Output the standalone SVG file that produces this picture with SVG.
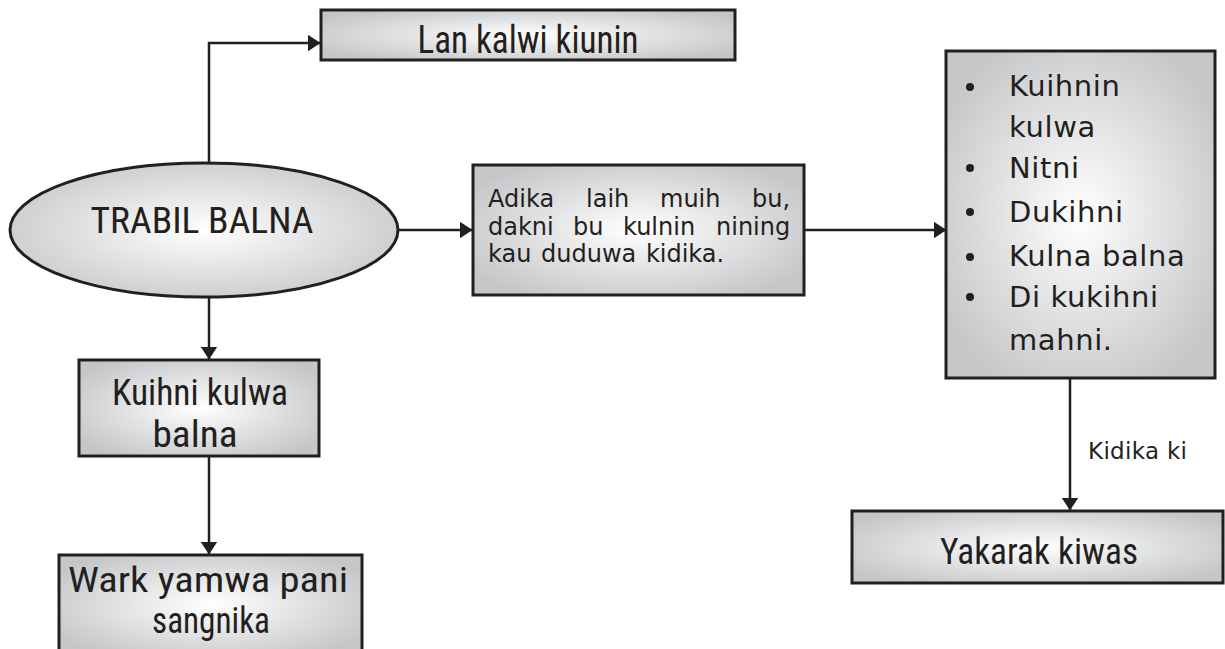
<svg xmlns="http://www.w3.org/2000/svg" width="1225" height="649" viewBox="0 0 1225 649">
<defs>
<radialGradient id="g" cx="50%" cy="50%" r="60%">
<stop offset="0" stop-color="#ffffff"/>
<stop offset="1" stop-color="#c5c6c8"/>
</radialGradient>
<marker id="ah" viewBox="0 0 13 17" refX="12.5" refY="8.5" markerWidth="13" markerHeight="17" markerUnits="userSpaceOnUse" orient="auto">
<path d="M0,0 L13,8.5 L0,17 Z" fill="#231f20"/>
</marker>
<style>
.box{fill:url(#g);stroke:#231f20;stroke-width:3}
.c{fill:none;stroke:#231f20;stroke-width:2.5;marker-end:url(#ah)}
.n{font-family:"Liberation Sans Narrow","Roboto",sans-serif;font-stretch:condensed;fill:#231f20;text-anchor:middle}
.g{font-family:"DejaVu Sans","Noto Sans",sans-serif;fill:#231f20}
</style>
</defs>
<g id="connectors">
<path class="c" d="M209,163 L209,43 L320,43"/>
<path class="c" d="M398,230 L472,230"/>
<path class="c" d="M804,230 L946,230"/>
<path class="c" d="M209,298 L209,359"/>
<path class="c" d="M209,456 L209,554"/>
<path class="c" d="M1070,379 L1070,510"/>
<text class="g" x="1088" y="459" font-size="23" letter-spacing="0.3">Kidika ki</text>
</g>
<g id="n-lan">
<rect class="box" x="321" y="10" width="414" height="50"/>
<text class="n" x="528" y="53" font-size="38" textLength="221" lengthAdjust="spacingAndGlyphs">Lan kalwi kiunin</text>
</g>
<g id="n-trabil">
<ellipse class="box" cx="204" cy="230" rx="194" ry="67"/>
<text class="n" x="202" y="233" font-size="36" textLength="223" lengthAdjust="spacingAndGlyphs">TRABIL BALNA</text>
</g>
<g id="n-adika">
<rect class="box" x="473" y="165" width="331" height="130"/>
<text class="g" font-size="24">
<tspan x="488" y="207">Adika</tspan><tspan x="586" y="207">laih</tspan><tspan x="660" y="207">muih</tspan><tspan x="752" y="207">bu,</tspan>
<tspan x="488" y="235">dakni</tspan><tspan x="573" y="235">bu</tspan><tspan x="623" y="235">kulnin</tspan><tspan x="716" y="235">nining</tspan>
<tspan x="488" y="262" word-spacing="2">kau duduwa kidika.</tspan>
</text>
</g>
<g id="n-list">
<rect class="box" x="946" y="51" width="269" height="327"/>
<g fill="#231f20">
<circle cx="970" cy="87" r="4"/>
<circle cx="970" cy="168" r="4"/>
<circle cx="970" cy="212" r="4"/>
<circle cx="970" cy="257" r="4"/>
<circle cx="970" cy="297" r="4"/>
</g>
<text class="g" font-size="29" letter-spacing="0.6">
<tspan x="1009" y="96">Kuihnin</tspan>
<tspan x="1009" y="137">kulwa</tspan>
<tspan x="1009" y="178">Nitni</tspan>
<tspan x="1009" y="222">Dukihni</tspan>
<tspan x="1009" y="266">Kulna balna</tspan>
<tspan x="1009" y="307">Di kukihni</tspan>
<tspan x="1009" y="350">mahni.</tspan>
</text>
</g>
<g id="n-kuihni">
<rect class="box" x="79" y="360" width="240" height="96"/>
<text class="n" x="200" y="405" font-size="37" textLength="176" lengthAdjust="spacingAndGlyphs">Kuihni kulwa</text>
<text class="n" x="195" y="447" font-size="37" textLength="85" lengthAdjust="spacingAndGlyphs">balna</text>
</g>
<g id="n-wark">
<rect class="box" x="59" y="555" width="303" height="100"/>
<text class="n" x="208" y="592" font-size="35" textLength="280" lengthAdjust="spacingAndGlyphs">Wark yamwa pani</text>
<text class="n" x="211" y="633" font-size="36" textLength="118" lengthAdjust="spacingAndGlyphs">sangnika</text>
</g>
<g id="n-yakarak">
<rect class="box" x="852" y="511" width="371" height="72"/>
<text class="n" x="1039" y="564" font-size="37" textLength="198" lengthAdjust="spacingAndGlyphs">Yakarak kiwas</text>
</g>
</svg>
